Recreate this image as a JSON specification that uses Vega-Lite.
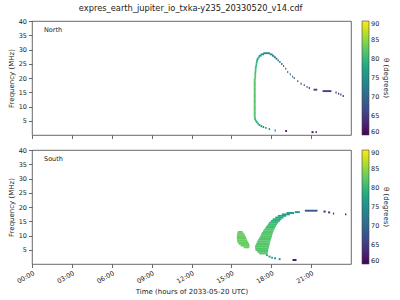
{
  "$schema": "https://vega.github.io/schema/vega-lite/v6.json",
  "background": "white",
  "padding": {"left": 6, "top": 4, "right": 0, "bottom": 0},
  "title": {"text": "expres_earth_jupiter_io_txka-y235_20330520_v14.cdf", "anchor": "middle", "fontSize": 8.3, "fontWeight": "normal", "color": "#222", "offset": 5, "dx": -8},
  "datasets": {
    "runs": [
      {"p": "North", "t0": 16.68, "t1": 16.83, "f": 7.4, "theta": 82},
      {"p": "North", "t0": 16.68, "t1": 16.83, "f": 8.0, "theta": 82},
      {"p": "North", "t0": 16.68, "t1": 16.83, "f": 8.6, "theta": 82},
      {"p": "North", "t0": 16.68, "t1": 16.83, "f": 9.2, "theta": 82},
      {"p": "North", "t0": 16.68, "t1": 16.83, "f": 9.8, "theta": 82},
      {"p": "North", "t0": 16.68, "t1": 16.83, "f": 10.4, "theta": 82},
      {"p": "North", "t0": 16.68, "t1": 16.83, "f": 11.0, "theta": 82},
      {"p": "North", "t0": 16.68, "t1": 16.83, "f": 11.6, "theta": 82},
      {"p": "North", "t0": 16.68, "t1": 16.83, "f": 12.2, "theta": 82},
      {"p": "North", "t0": 16.68, "t1": 16.83, "f": 12.8, "theta": 82},
      {"p": "North", "t0": 16.68, "t1": 16.83, "f": 13.4, "theta": 82},
      {"p": "North", "t0": 16.68, "t1": 16.83, "f": 14.0, "theta": 82},
      {"p": "North", "t0": 16.68, "t1": 16.83, "f": 14.6, "theta": 82},
      {"p": "North", "t0": 16.68, "t1": 16.83, "f": 15.2, "theta": 82},
      {"p": "North", "t0": 16.68, "t1": 16.83, "f": 15.8, "theta": 82},
      {"p": "North", "t0": 16.68, "t1": 16.83, "f": 16.4, "theta": 82},
      {"p": "North", "t0": 16.68, "t1": 16.83, "f": 17.0, "theta": 82},
      {"p": "North", "t0": 16.68, "t1": 16.83, "f": 17.6, "theta": 82},
      {"p": "North", "t0": 16.68, "t1": 16.83, "f": 18.2, "theta": 82},
      {"p": "North", "t0": 16.68, "t1": 16.83, "f": 18.8, "theta": 82},
      {"p": "North", "t0": 16.68, "t1": 16.83, "f": 19.4, "theta": 82},
      {"p": "North", "t0": 16.73, "t1": 16.86, "f": 20.0, "theta": 82},
      {"p": "North", "t0": 16.73, "t1": 16.86, "f": 20.6, "theta": 82},
      {"p": "North", "t0": 16.73, "t1": 16.86, "f": 21.2, "theta": 81},
      {"p": "North", "t0": 16.74, "t1": 16.87, "f": 21.8, "theta": 81},
      {"p": "North", "t0": 16.75, "t1": 16.88, "f": 22.4, "theta": 81},
      {"p": "North", "t0": 16.76, "t1": 16.89, "f": 23.0, "theta": 81},
      {"p": "North", "t0": 16.77, "t1": 16.90, "f": 23.6, "theta": 80},
      {"p": "North", "t0": 16.80, "t1": 16.92, "f": 24.2, "theta": 80},
      {"p": "North", "t0": 16.82, "t1": 16.94, "f": 24.8, "theta": 80},
      {"p": "North", "t0": 16.84, "t1": 16.97, "f": 25.4, "theta": 79},
      {"p": "North", "t0": 16.86, "t1": 17.0, "f": 26.0, "theta": 79},
      {"p": "North", "t0": 16.90, "t1": 17.05, "f": 26.6, "theta": 78},
      {"p": "North", "t0": 16.98, "t1": 17.13, "f": 27.2, "theta": 77},
      {"p": "North", "t0": 17.06, "t1": 17.27, "f": 27.8, "theta": 76},
      {"p": "North", "t0": 17.20, "t1": 17.46, "f": 28.3, "theta": 75},
      {"p": "North", "t0": 17.40, "t1": 17.90, "f": 28.7, "theta": 75},
      {"p": "North", "t0": 17.88, "t1": 18.10, "f": 28.3, "theta": 74},
      {"p": "North", "t0": 18.06, "t1": 18.22, "f": 27.8, "theta": 73},
      {"p": "North", "t0": 18.20, "t1": 18.34, "f": 27.3, "theta": 73},
      {"p": "North", "t0": 18.32, "t1": 18.46, "f": 26.8, "theta": 72},
      {"p": "North", "t0": 18.46, "t1": 18.58, "f": 26.2, "theta": 72},
      {"p": "North", "t0": 18.60, "t1": 18.70, "f": 25.6, "theta": 71},
      {"p": "North", "t0": 18.74, "t1": 18.84, "f": 24.9, "theta": 71},
      {"p": "North", "t0": 18.88, "t1": 18.97, "f": 24.2, "theta": 71},
      {"p": "North", "t0": 19.04, "t1": 19.13, "f": 23.3, "theta": 70},
      {"p": "North", "t0": 19.20, "t1": 19.28, "f": 22.1, "theta": 70},
      {"p": "North", "t0": 19.39, "t1": 19.47, "f": 21.3, "theta": 70},
      {"p": "North", "t0": 19.57, "t1": 19.65, "f": 20.5, "theta": 69},
      {"p": "North", "t0": 19.69, "t1": 19.77, "f": 20.0, "theta": 69},
      {"p": "North", "t0": 19.95, "t1": 20.04, "f": 18.9, "theta": 69},
      {"p": "North", "t0": 20.20, "t1": 20.29, "f": 18.0, "theta": 68},
      {"p": "North", "t0": 20.44, "t1": 20.53, "f": 17.5, "theta": 68},
      {"p": "North", "t0": 20.65, "t1": 20.74, "f": 16.9, "theta": 67},
      {"p": "North", "t0": 20.82, "t1": 20.91, "f": 16.5, "theta": 67},
      {"p": "North", "t0": 21.18, "t1": 21.46, "f": 15.9, "theta": 66},
      {"p": "North", "t0": 21.86, "t1": 22.53, "f": 15.4, "theta": 66},
      {"p": "North", "t0": 22.83, "t1": 22.92, "f": 14.9, "theta": 65},
      {"p": "North", "t0": 23.02, "t1": 23.11, "f": 14.5, "theta": 65},
      {"p": "North", "t0": 23.19, "t1": 23.28, "f": 14.2, "theta": 64},
      {"p": "North", "t0": 23.37, "t1": 23.46, "f": 13.7, "theta": 63},
      {"p": "North", "t0": 16.68, "t1": 16.83, "f": 6.8, "theta": 82},
      {"p": "North", "t0": 16.69, "t1": 16.84, "f": 6.2, "theta": 82},
      {"p": "North", "t0": 16.71, "t1": 16.86, "f": 5.6, "theta": 81},
      {"p": "North", "t0": 16.77, "t1": 16.91, "f": 5.0, "theta": 80},
      {"p": "North", "t0": 16.85, "t1": 16.98, "f": 4.5, "theta": 79},
      {"p": "North", "t0": 16.94, "t1": 17.07, "f": 4.0, "theta": 78},
      {"p": "North", "t0": 17.05, "t1": 17.18, "f": 3.5, "theta": 77},
      {"p": "North", "t0": 17.19, "t1": 17.32, "f": 3.1, "theta": 76},
      {"p": "North", "t0": 17.34, "t1": 17.47, "f": 2.8, "theta": 75},
      {"p": "North", "t0": 17.54, "t1": 17.65, "f": 2.5, "theta": 74},
      {"p": "North", "t0": 17.81, "t1": 17.91, "f": 2.1, "theta": 73},
      {"p": "North", "t0": 18.25, "t1": 18.34, "f": 1.6, "theta": 71},
      {"p": "North", "t0": 19.05, "t1": 19.19, "f": 1.4, "theta": 62},
      {"p": "North", "t0": 21.03, "t1": 21.18, "f": 1.0, "theta": 61},
      {"p": "North", "t0": 21.33, "t1": 21.43, "f": 1.0, "theta": 61},

      {"p": "South", "t0": 15.48, "t1": 15.84, "f": 11.25, "theta": 83},
      {"p": "South", "t0": 15.43, "t1": 15.95, "f": 10.65, "theta": 83},
      {"p": "South", "t0": 15.41, "t1": 16.03, "f": 10.05, "theta": 83},
      {"p": "South", "t0": 15.41, "t1": 16.09, "f": 9.45, "theta": 83},
      {"p": "South", "t0": 15.41, "t1": 16.14, "f": 8.85, "theta": 83},
      {"p": "South", "t0": 15.43, "t1": 16.20, "f": 8.25, "theta": 83},
      {"p": "South", "t0": 15.46, "t1": 16.27, "f": 7.65, "theta": 83},
      {"p": "South", "t0": 15.55, "t1": 16.33, "f": 7.05, "theta": 83},
      {"p": "South", "t0": 15.70, "t1": 16.38, "f": 6.45, "theta": 83},
      {"p": "South", "t0": 15.92, "t1": 16.34, "f": 5.85, "theta": 83},

      {"p": "South", "t0": 17.09, "t1": 17.72, "f": 3.7, "theta": 82},
      {"p": "South", "t0": 16.95, "t1": 17.75, "f": 4.3, "theta": 82},
      {"p": "South", "t0": 16.82, "t1": 17.77, "f": 4.9, "theta": 82},
      {"p": "South", "t0": 16.79, "t1": 17.80, "f": 5.5, "theta": 82},
      {"p": "South", "t0": 16.77, "t1": 17.84, "f": 6.1, "theta": 82},
      {"p": "South", "t0": 16.83, "t1": 17.87, "f": 6.7, "theta": 82},
      {"p": "South", "t0": 16.89, "t1": 17.89, "f": 7.3, "theta": 82},
      {"p": "South", "t0": 16.95, "t1": 17.93, "f": 7.9, "theta": 82},
      {"p": "South", "t0": 17.02, "t1": 17.97, "f": 8.5, "theta": 82},
      {"p": "South", "t0": 17.10, "t1": 18.01, "f": 9.1, "theta": 82},
      {"p": "South", "t0": 17.17, "t1": 18.05, "f": 9.7, "theta": 82},
      {"p": "South", "t0": 17.23, "t1": 18.08, "f": 10.3, "theta": 82},
      {"p": "South", "t0": 17.29, "t1": 18.12, "f": 10.9, "theta": 82},
      {"p": "South", "t0": 17.38, "t1": 18.17, "f": 11.5, "theta": 82},
      {"p": "South", "t0": 17.47, "t1": 18.22, "f": 12.1, "theta": 82},
      {"p": "South", "t0": 17.56, "t1": 18.28, "f": 12.7, "theta": 81},
      {"p": "South", "t0": 17.65, "t1": 18.35, "f": 13.3, "theta": 81},
      {"p": "South", "t0": 17.75, "t1": 18.43, "f": 13.9, "theta": 81},
      {"p": "South", "t0": 17.84, "t1": 18.52, "f": 14.5, "theta": 80},
      {"p": "South", "t0": 17.97, "t1": 18.65, "f": 15.1, "theta": 80},
      {"p": "South", "t0": 18.10, "t1": 18.77, "f": 15.7, "theta": 79},
      {"p": "South", "t0": 18.30, "t1": 18.93, "f": 16.3, "theta": 78},
      {"p": "South", "t0": 18.50, "t1": 19.12, "f": 16.9, "theta": 78},
      {"p": "South", "t0": 18.80, "t1": 19.40, "f": 17.4, "theta": 77},
      {"p": "South", "t0": 19.15, "t1": 19.72, "f": 17.9, "theta": 76},
      {"p": "South", "t0": 19.77, "t1": 20.15, "f": 18.2, "theta": 75},
      {"p": "South", "t0": 20.53, "t1": 21.48, "f": 18.7, "theta": 68},
      {"p": "South", "t0": 21.93, "t1": 22.10, "f": 18.4, "theta": 64},
      {"p": "South", "t0": 22.28, "t1": 22.43, "f": 18.1, "theta": 63},
      {"p": "South", "t0": 22.64, "t1": 22.73, "f": 17.7, "theta": 63},
      {"p": "South", "t0": 23.55, "t1": 23.65, "f": 17.4, "theta": 62},

      {"p": "South", "t0": 17.60, "t1": 17.75, "f": 3.1, "theta": 78},
      {"p": "South", "t0": 17.80, "t1": 17.95, "f": 2.6, "theta": 76},
      {"p": "South", "t0": 18.00, "t1": 18.12, "f": 2.2, "theta": 75},
      {"p": "South", "t0": 18.22, "t1": 18.36, "f": 2.0, "theta": 74},
      {"p": "South", "t0": 18.56, "t1": 18.70, "f": 1.7, "theta": 73},
      {"p": "South", "t0": 19.60, "t1": 19.90, "f": 1.4, "theta": 61}
    ]
  },
  "spacing": 15,
  "bounds": "flush",
  "resolve": {"scale": {"color": "independent", "x": "independent", "y": "independent"}, "legend": {"color": "independent"}},
  "vconcat": [
    {
      "width": 319,
      "height": 114,
      "title": {"text": "North", "anchor": "start", "frame": "group", "fontSize": 6.5, "fontWeight": "normal", "color": "#222", "dx": 12, "dy": 15, "offset": 0},
      "data": {"name": "runs"},
      "transform": [{"filter": "datum.p === 'North'"}],
      "mark": {"type": "rule", "strokeWidth": 1.9},
      "encoding": {
        "x": {"field": "t0", "type": "quantitative", "scale": {"domain": [0, 24], "nice": false}, "axis": {"values": [0, 3, 6, 9, 12, 15, 18, 21], "labels": false, "title": null}},
        "x2": {"field": "t1"},
        "y": {"field": "f", "type": "quantitative", "scale": {"domain": [0, 40], "nice": false}, "axis": {"values": [5, 10, 15, 20, 25, 30, 35, 40], "title": "Frequency (MHz)"}},
        "color": {"field": "theta", "type": "quantitative", "scale": {"scheme": "viridis", "domain": [60, 90]}, "legend": {"title": "θ (degrees)", "values": [60, 65, 70, 75, 80, 85, 90]}}
      }
    },
    {
      "width": 319,
      "height": 114,
      "title": {"text": "South", "anchor": "start", "frame": "group", "fontSize": 6.5, "fontWeight": "normal", "color": "#222", "dx": 12, "dy": 15, "offset": 0},
      "data": {"name": "runs"},
      "transform": [{"filter": "datum.p === 'South'"}],
      "mark": {"type": "rule", "strokeWidth": 1.9},
      "encoding": {
        "x": {"field": "t0", "type": "quantitative", "scale": {"domain": [0, 24], "nice": false}, "axis": {"values": [0, 3, 6, 9, 12, 15, 18, 21], "labelExpr": "(datum.value < 10 ? '0' : '') + datum.value + ':00'", "labelAngle": -30, "labelAlign": "right", "labelBaseline": "top", "title": "Time (hours of 2033-05-20 UTC)", "titlePadding": 3}},
        "x2": {"field": "t1"},
        "y": {"field": "f", "type": "quantitative", "scale": {"domain": [0, 40], "nice": false}, "axis": {"values": [5, 10, 15, 20, 25, 30, 35, 40], "title": "Frequency (MHz)"}},
        "color": {"field": "theta", "type": "quantitative", "scale": {"scheme": "viridis", "domain": [60, 90]}, "legend": {"title": "θ (degrees)", "values": [60, 65, 70, 75, 80, 85, 90]}}
      }
    }
  ],
  "config": {
    "font": "DejaVu Sans",
    "view": {"stroke": "#444", "strokeWidth": 0.8},
    "axis": {"grid": false, "domain": false, "tickColor": "#444", "tickSize": 3.5, "tickWidth": 0.8, "labelFontSize": 6.5, "titleFontSize": 7, "labelColor": "#222", "titleColor": "#222", "titleFontWeight": "normal", "labelPadding": 2, "titlePadding": 4, "labelOverlap": false},
    "legend": {"orient": "right", "offset": 11, "padding": 0, "gradientLength": 114, "gradientThickness": 7, "gradientStrokeColor": "#444", "gradientStrokeWidth": 0.6, "labelFontSize": 6.5, "labelColor": "#222", "labelBaseline": "middle", "labelOffset": 4, "titleOrient": "right", "titleFontSize": 7, "titleFontWeight": "normal", "titleColor": "#222", "titlePadding": 4}
  }
}
